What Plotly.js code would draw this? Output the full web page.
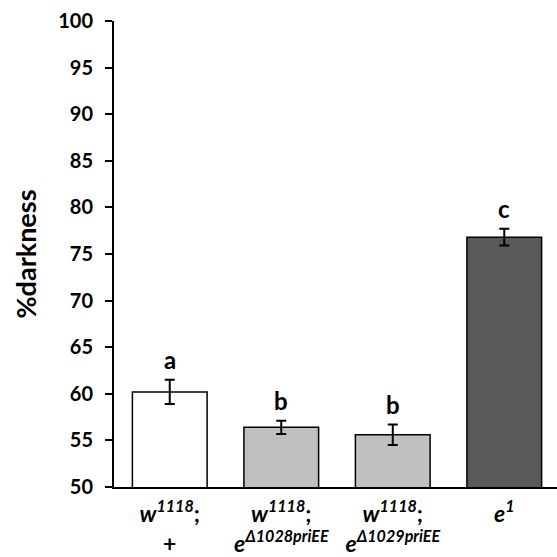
<!DOCTYPE html>
<html>
<head>
<meta charset="utf-8">
<script src="https://cdn.plot.ly/plotly-3.0.1.min.js"></script>
<style>html,body{margin:0;padding:0;background:#fff;}#chart{width:557px;height:557px;}</style>
</head>
<body>
<div id="chart"></div>
<script>
const categories = ["w1118; +", "w1118; eΔ1028priEE", "w1118; eΔ1029priEE", "e1"];
const tickLabels = [
  "<b><i>w<sup>1118</sup></i>;</b><br><b>+</b>",
  "<b><i>w<sup>1118</sup></i>;</b><br><b><i>e<sup>Δ1028priEE</sup></i></b>",
  "<b><i>w<sup>1118</sup></i>;</b><br><b><i>e<sup>Δ1029priEE</sup></i></b>",
  "<b><i>e<sup>1</sup></i></b>"
];
const values = [60.2, 56.4, 55.6, 76.8];
const errors = [1.3, 0.7, 1.1, 0.9];
const letters = ["a", "b", "b", "c"];
const barColors = ["#ffffff", "#c0c0c0", "#c0c0c0", "#595959"];

const FONT = "Lato, 'Open Sans', sans-serif";

const trace = {
  type: "bar",
  x: categories,
  y: values,
  marker: { color: barColors, line: { color: "#000", width: 1.5 } },
  error_y: { type: "data", array: errors, visible: true, color: "#000", thickness: 2, width: 5 },
  hoverinfo: "none"
};

const annotations = categories.map((c, i) => ({
  x: c, y: values[i] + errors[i], xref: "x", yref: "y",
  text: "<b>" + letters[i] + "</b>", showarrow: false,
  yanchor: "bottom", yshift: 4,
  font: { family: FONT, size: 24, color: "#000" }
}));

const layout = {
  width: 557, height: 557,
  margin: { l: 114, r: 0, t: 21, b: 70 },
  paper_bgcolor: "#fff", plot_bgcolor: "#fff",
  showlegend: false,
  bargap: 0.33,
  font: { family: FONT, color: "#000" },
  xaxis: {
    type: "category",
    range: [-0.5, 3.473],
    tickvals: categories, ticktext: tickLabels,
    showline: true, linecolor: "#000", linewidth: 2,
    ticks: "", showgrid: false, zeroline: false,
    ticklabelstandoff: 5,
    tickfont: { family: FONT, size: 23, color: "#000" }
  },
  yaxis: {
    range: [50, 100], dtick: 5, tick0: 50,
    showline: true, linecolor: "#000", linewidth: 2,
    ticks: "outside", ticklen: 7, tickwidth: 2, tickcolor: "#000",
    showgrid: false, zeroline: false,
    ticklabelstandoff: 8,
    tickfont: { family: FONT, size: 20, color: "#000", weight: "bold" },
    title: { text: "<b>%darkness</b>", font: { family: FONT, size: 27, color: "#000" }, standoff: 14 }
  },
  annotations: annotations
};

Plotly.newPlot("chart", [trace], layout, { displayModeBar: false, staticPlot: true });
</script>
</body>
</html>
